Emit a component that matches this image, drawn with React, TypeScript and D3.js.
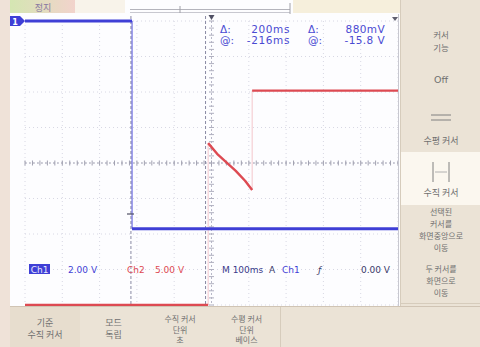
import * as d3 from 'd3'

// time (ms) and volts for each channel
const ch1Time = [-500, -213, -213, 500]
const ch1Volts = [0, 0, -11.7, -11.7]
const ch2Time = [-500, -9, -9, 15, 40, 65, 90, 109, 109, 500]
const ch2Volts = [0, 0, 22.8, 21.3, 20.1, 18.9, 17.5, 16.2, 30.2, 30.2]

// channel settings: volts per division, ground position in divisions
const ch1Scale = 2
const ch1Ground = 4
const ch2Scale = 5
const ch2Ground = -4

const cursorTimes = [-216, -16]
const cursorReadout = [
  ['Δ:', '200ms', 'Δ:', '880mV'],
  ['@:', '-216ms', '@:', '-15.8 V']
]

const sideMenu = [
  ['커서', '기능'],
  ['Off'],
  ['수평 커서'],
  ['수직 커서'],
  ['선택된', '커서를', '화면중앙으로', '이동'],
  ['두 커서를', '화면으로', '이동']
]
const bottomMenu = [
  ['기준', '수직 커서'],
  ['모드', '독립'],
  ['수직 커서', '단위', '초'],
  ['수평 커서', '단위', '베이스']
]

const BEIGE = '#ebe3d6'
const BLUE = '#3f3fd6'
const RED = '#dd4a52'
const KR = '"Noto Sans CJK KR", sans-serif'
const MONO = '"DejaVu Sans", sans-serif'

const x = d3.scaleLinear().domain([-500, 500]).range([25, 398])
const yDiv = d3.scaleLinear().domain([-4, 4]).range([305, 21])

function runs(t: number[], v: number[]) {
  const out: [number, number][][] = []
  let cur: [number, number][] = [[t[0], v[0]]]
  for (let i = 1; i < t.length; i++) {
    if (t[i] === t[i - 1]) {
      out.push(cur)
      cur = [[t[i], v[i]]]
    } else cur.push([t[i], v[i]])
  }
  out.push(cur)
  return out
}

function Trace({ t, v, scale, ground, color, width, edge }: {
  t: number[], v: number[], scale: number, ground: number, color: string, width: number, edge: number
}) {
  const line = d3.line<[number, number]>()
    .x(d => x(d[0]))
    .y(d => yDiv(Math.max(-4, d[1] / scale + ground)))
  const pts = t.map((tt, i) => [tt, v[i]] as [number, number])
  return (
    <g>
      <path d={line(pts) ?? ''} fill="none" stroke={color} strokeWidth={1} opacity={edge} />
      {runs(t, v).filter(r => r.length > 1).map((r, i) => (
        <path key={i} d={line(r) ?? ''} fill="none" stroke={color} strokeWidth={width} strokeLinejoin="round" />
      ))}
    </g>
  )
}

export default function App() {
  const divsX = d3.range(0, 11)
  const divsY = d3.range(-4, 5)
  const minorX = d3.range(-500, 501, 20)
  const minorY = d3.range(-4, 4.01, 0.2)
  const sideBoxes = [[0, 60], [60, 100], [100, 152], [152, 205], [205, 257], [257, 303]]
  const sideCenters = [41, 80, 141, 193, 230, 281]
  const sideStep = [13, 12, 12, 12, 11.7, 11.7]
  const sideFont = [8.5, 9.5, 9, 9, 8, 8]
  const bottomBoxes = [[10, 80], [80, 147], [147, 213], [213, 280]]

  return (
    <svg width={480} height={347} style={{ position: 'absolute', left: 0, top: 0, display: 'block' }}>
      <defs>
        <linearGradient id="stop" x1="0" x2="1">
          <stop offset="0" stopColor="#d4e6b2" />
          <stop offset="1" stopColor="#f2d3cc" />
        </linearGradient>
      </defs>
      <rect width={480} height={347} fill={BEIGE} />
      <rect x={0} y={0} width={10} height={347} fill="#efe2d8" />
      {/* screen */}
      <rect x={10} y={0} width={390} height={306} fill="#fdfdff" />

      {/* top status bar */}
      <rect x={10} y={0} width={65} height={13} fill="url(#stop)" />
      <text x={43} y={11} textAnchor="middle" fontFamily={KR} fontSize={9} fill="#8878a0">정지</text>
      <rect x={75} y={0} width={50} height={13} fill="#f8f3ea" />
      <line x1={130} x2={290} y1={9.5} y2={9.5} stroke="#b4b4bc" />
      <line x1={130} x2={290} y1={12.5} y2={12.5} stroke="#c8c8d0" />
      <line x1={180} x2={180} y1={6} y2={13} stroke="#a0a0a8" />
      <line x1={290} x2={290} y1={3} y2={14} stroke="#a0a0a8" />
      <rect x={293} y={0} width={107} height={13} fill="#f6efdc" />

      {/* graticule */}
      {divsX.map(i => (
        <line key={'gx' + i} x1={x(-500 + i * 100)} x2={x(-500 + i * 100)} y1={21} y2={305}
          stroke="#d8d8e4" strokeDasharray="1,3" />
      ))}
      {divsY.map(i => (
        <line key={'gy' + i} x1={25} x2={398} y1={yDiv(i)} y2={yDiv(i)}
          stroke="#d8d8e4" strokeDasharray="1,3" />
      ))}
      <line x1={25} x2={398} y1={yDiv(0)} y2={yDiv(0)} stroke="#a8a8b8" strokeDasharray="2,2" />
      <line x1={x(0)} x2={x(0)} y1={21} y2={305} stroke="#b8b8c8" strokeDasharray="2,2" />
      {minorX.map(t => (
        <line key={'mx' + t} x1={x(t)} x2={x(t)} y1={yDiv(0) - 2.5} y2={yDiv(0) + 2.5} stroke="#a0a0b0" />
      ))}
      {minorY.map(d => (
        <line key={'my' + d} x1={x(0) - 2.5} x2={x(0) + 2.5} y1={yDiv(d)} y2={yDiv(d)} stroke="#b0b0c0" />
      ))}
      <line x1={398.5} x2={398.5} y1={14} y2={306} stroke="#c8c8d0" />

      {/* cursors */}
      {cursorTimes.map(t => (
        <line key={'c' + t} x1={x(t)} x2={x(t)} y1={16} y2={305} stroke="#8a8aa4" strokeDasharray="3,2" />
      ))}

      {/* traces */}
      <Trace t={ch2Time} v={ch2Volts} scale={ch2Scale} ground={ch2Ground} color={RED} width={2.4} edge={0.3} />
      <Trace t={ch1Time} v={ch1Volts} scale={ch1Scale} ground={ch1Ground} color={BLUE} width={3} edge={0.9} />

      {/* markers */}
      <path d="M10,16 L20,16 L25,21 L20,26 L10,26 Z" fill={BLUE} />
      <text x={15} y={24.5} textAnchor="middle" fontFamily={MONO} fontSize={8} fontWeight="bold" fill="#fff">1</text>
      <path d={`M${x(0) - 3},15 L${x(0) + 3},15 L${x(0)},20 Z`} fill="#505064" />
      <path d="M392,17 L398,17 L395,21 Z" fill="#606070" />
      <line x1={127} x2={134} y1={214} y2={214} stroke="#505064" strokeWidth={1.2} />

      {/* cursor readout */}
      {cursorReadout.map((row, r) => (
        <g key={'cr' + r} fontFamily={MONO} fontSize={10.5} fill="#4a4ad2">
          <text x={220} y={33 + r * 11}>{row[0]}</text>
          <text x={290} y={33 + r * 11} textAnchor="end" letterSpacing={0.6}>{row[1]}</text>
          <text x={308} y={33 + r * 11}>{row[2]}</text>
          <text x={385} y={33 + r * 11} textAnchor="end" letterSpacing={0.4}>{row[3]}</text>
        </g>
      ))}

      {/* channel readout */}
      <rect x={29} y={264} width={21} height={10} fill={BLUE} />
      <g fontFamily={MONO} fontSize={9}>
        <text x={39.5} y={272.5} textAnchor="middle" fill="#e8e8ff">Ch1</text>
        <text x={68} y={273} fill={BLUE}>2.00 V</text>
        <text x={127} y={273} fill={RED}>Ch2</text>
        <text x={155} y={273} fill={RED}>5.00 V</text>
        <text x={222} y={273} fill="#3a3a8a">M 100ms</text>
        <text x={269} y={273} fill="#3a3a6a">A</text>
        <text x={282} y={273} fill={BLUE}>Ch1</text>
        <text x={318} y={273} fill="#3a3a6a" fontStyle="italic">ƒ</text>
        <text x={390} y={273} textAnchor="end" fill="#3a3a6a">0.00 V</text>
      </g>

      {/* side menu */}
      {sideBoxes.map(([y0, y1], i) => (
        <g key={'sb' + i}>
          <rect x={400} y={y0} width={80} height={y1 - y0} fill={i === 3 ? '#fbf7ef' : BEIGE} />
          <line x1={401} x2={480} y1={y1 + 0.5} y2={y1 + 0.5} stroke="#d6ccbc" />
          {sideMenu[i].map((s, k) => (
            <text key={k} x={441}
              y={sideCenters[i] - (sideMenu[i].length - 1) * sideStep[i] / 2 + k * sideStep[i] + 3}
              textAnchor="middle" fontFamily={i === 1 ? MONO : KR} fontSize={sideFont[i]}
              fill="#707070">{s}</text>
          ))}
        </g>
      ))}
      <line x1={400.5} x2={400.5} y1={0} y2={306} stroke="#d6ccbc" />
      <line x1={431} x2={451} y1={115} y2={115} stroke="#808080" />
      <line x1={431} x2={451} y1={120} y2={120} stroke="#808080" />
      <line x1={433} x2={433} y1={162} y2={182} stroke="#808080" />
      <line x1={449} x2={449} y1={162} y2={182} stroke="#808080" />
      <line x1={435} x2={447} y1={172} y2={172} stroke="#b0b0b0" />

      {/* bottom menu */}
      <line x1={10} x2={480} y1={306.5} y2={306.5} stroke="#d0c4b4" />
      {bottomBoxes.map(([x0, x1], i) => {
        const n = bottomMenu[i].length
        const step = n === 2 ? 12 : 10.5
        const fs = n === 2 ? 9 : 8
        return (
          <g key={'bb' + i}>
            <rect x={x0} y={307} width={x1 - x0} height={40} fill={i === 0 ? '#e7ddce' : BEIGE} />
            <line x1={x1 + 0.5} x2={x1 + 0.5} y1={307} y2={347} stroke="#d6ccbc" />
            {bottomMenu[i].map((s, k) => (
              <text key={k} x={(x0 + x1) / 2} y={(n === 2 ? 326 : 322) + k * step}
                textAnchor="middle" fontFamily={KR} fontSize={fs} fill="#707070">{s}</text>
            ))}
          </g>
        )
      })}
    </svg>
  )
}
